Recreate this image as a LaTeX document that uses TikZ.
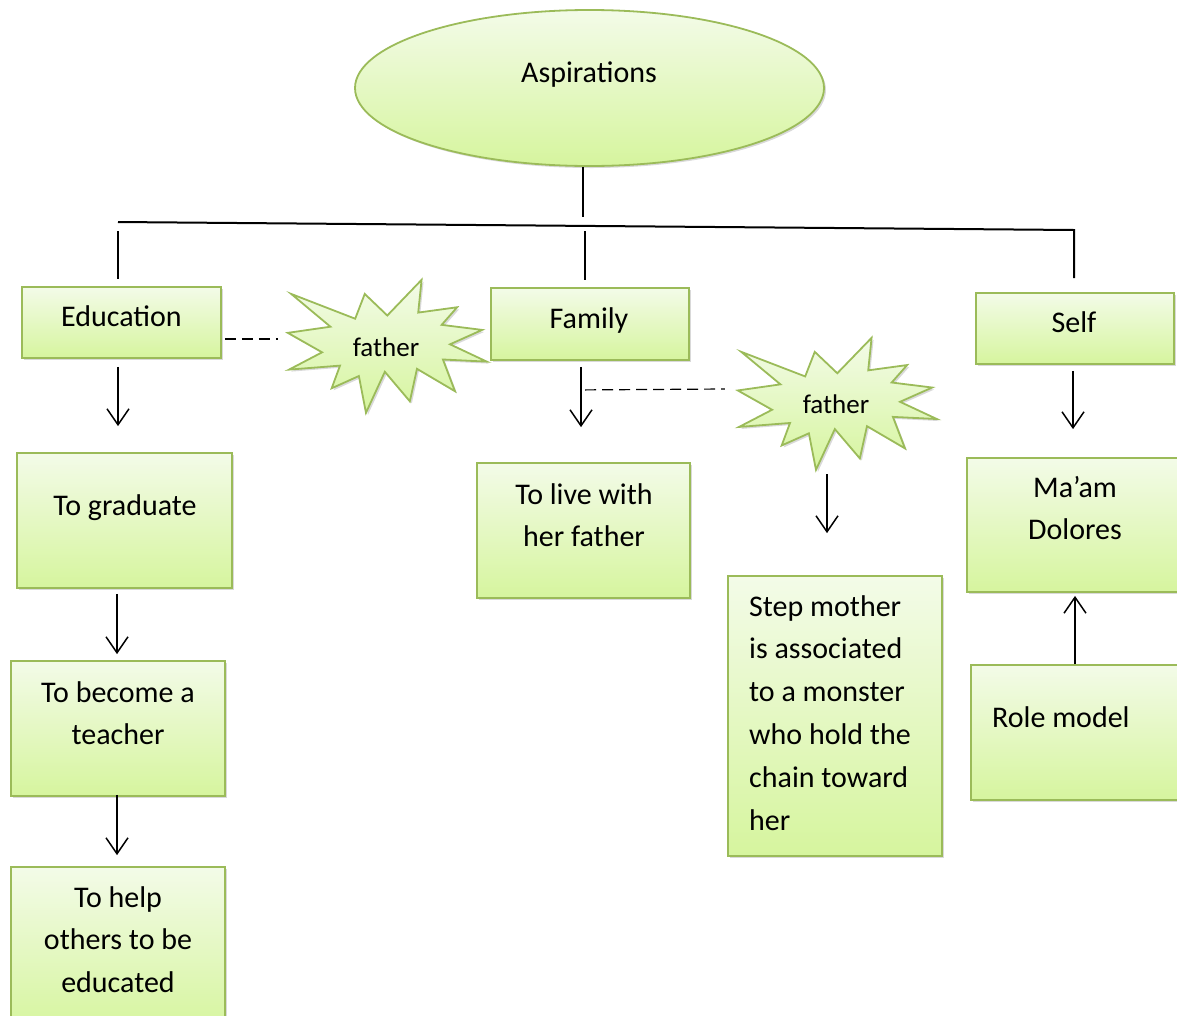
\documentclass[tikz,border=0pt]{standalone}
\usepackage{fontspec}
\setmainfont{Carlito}
\usetikzlibrary{arrows.meta,shapes.geometric,shadows,calc}
\definecolor{gtop}{RGB}{243,251,232}
\definecolor{gbot}{RGB}{214,245,158}
\definecolor{gbord}{RGB}{155,187,89}
\newcommand\burstpath{(108,58) -- (145.22,0) -- (141.55,53.25) -- (183.80,44.57) -- (167.02,73.15) -- (210.97,81.37) -- (176.07,104.75) -- (216,132.90) -- (168.37,129.42) -- (181.45,180.95) -- (140.20,144.57) -- (132.47,197.37) -- (105.32,149.35) -- (84.85,216) -- (77.15,156.27) -- (47.62,176.17) -- (56.67,139.37) -- (1.35,145.87) -- (37.22,117.75) -- (0,86.15) -- (46.27,76.17) -- (3.70,22.95) -- (73.12,63.20) -- (83.52,22.95) -- cycle}
\begin{document}
\begin{tikzpicture}[x=1pt,y=-1pt,
  gbox/.style={rectangle, draw=gbord, line width=1.8pt, top color=gtop, bottom color=gbot,
    drop shadow={opacity=0.3,shadow xshift=2pt,shadow yshift=-2pt}, inner sep=0pt},
  gell/.style={ellipse, draw=gbord, line width=1.8pt, top color=gtop, bottom color=gbot,
    drop shadow={opacity=0.3,shadow xshift=2pt,shadow yshift=-2pt}, inner sep=0pt},
  burst/.style={draw=gbord, line width=1.8pt, top color=gtop, bottom color=gbot,
    drop shadow={opacity=0.3,shadow xshift=2pt,shadow yshift=-2pt}},
  burstbox/.style={minimum width=199pt, minimum height=133pt, inner sep=0pt},
  txt/.style={font=\fontsize{30}{42.8}\selectfont, inner sep=0pt, align=center},
  ftxt/.style={font=\fontsize{27}{33}\selectfont, inner sep=0pt},
  tree/.style={line width=2pt},
  arr/.style={line width=1.5pt, -{Straight Barb[length=16pt,width=22pt]}},
  dashln/.style={line width=1.2pt, dash pattern=on 11pt off 6pt}
]
\useasboundingbox (0,0) rectangle (1177,1015);
\clip (0,0) rectangle (1177,1015);

% top ellipse
\node[gell, minimum width=469pt, minimum height=156pt] (asp) at (589.5,88) {};
\node[txt, anchor=base] (aspt) at (589,82) {Aspirations};

% level 1 boxes
\node[gbox, minimum width=199pt, minimum height=71pt] (edu) at (121.5,322.5) {};
\node[txt, anchor=base] (edut) at (121.5,326) {Education};
\node[gbox, minimum width=198pt, minimum height=72pt] (fam) at (590,324) {};
\node[txt, anchor=base] (famt) at (589,328) {Family};
\node[gbox, minimum width=198pt, minimum height=71pt] (self) at (1075,328.5) {};
\node[txt, anchor=base] (selft) at (1074,332) {Self};

% starbursts
\node[burstbox] (s1) at (387.5,346.5) {};
\begin{scope}[shift={(s1.north west)}, x=0.9213pt, y=-0.6157pt]
  \shade[burst] \burstpath;
\end{scope}
\node[ftxt, anchor=base] (s1t) at (386,356) {father};

\node[burstbox, minimum height=132pt] (s2) at (837.5,404) {};
\begin{scope}[shift={(s2.north west)}, x=0.9213pt, y=-0.6111pt]
  \shade[burst] \burstpath;
\end{scope}
\node[ftxt, anchor=base] (s2t) at (836,413) {father};

% lower boxes (multi-line texts: base anchor = last line's baseline)
\node[gbox, minimum width=215pt, minimum height=135pt] (grad) at (124.5,520.5) {};
\node[txt, anchor=base] (gradt) at (125,515) {To graduate};

\node[gbox, minimum width=213pt, minimum height=135pt] (live) at (583.5,530.5) {};
\node[txt, anchor=base] (livet) at (584,546.8) {To live with\\her father};

\node[gbox, minimum width=214pt, minimum height=280pt] (step) at (835,716) {};
\node[txt, anchor=base west, align=left] (stept) at (749,830) {Step mother\\is associated\\to a monster\\who hold the\\chain toward\\her};

\node[gbox, minimum width=216pt, minimum height=134pt] (maam) at (1075,525) {};
\node[txt, anchor=base] (maamt) at (1075,539.8) {Ma’am\\Dolores};

\node[gbox, minimum width=212pt, minimum height=135pt] (role) at (1077,732.5) {};
\node[txt, anchor=base west] (rolet) at (992,727) {Role model};

\node[gbox, minimum width=214pt, minimum height=135pt] (teach) at (118,728.5) {};
\node[txt, anchor=base] (teacht) at (118,744.8) {To become a\\teacher};

\node[gbox, minimum width=214pt, minimum height=163pt] (help) at (118,948.5) {};
\node[txt, anchor=base] (helpt) at (118,992.6) {To help\\others to be\\educated};

% tree connectors
\coordinate (busL) at (118,222);
\coordinate (busR) at (1074,230);
\draw[tree] ($(asp.south)+(-6.5,0)$) -- ($(asp.south)+(-6.5,50)$);
\draw[tree] (busL) -- (busR) -- ($(self.north)+(-1,-14)$);
\draw[tree] ($(edu.north)+(-3.5,-55)$) -- ($(edu.north)+(-3.5,-7)$);
\draw[tree] ($(fam.north)+(-5,-56)$) -- ($(fam.north)+(-5,-7)$);

% dashed links
\draw[dashln] ($(edu.east)+(3,16.5)$) -- ($(s1.west)+(-10,-7.5)$);
\draw[dashln] ($(fam.south)+(-5,29)$) -- ($(s2.west)+(-13,-15)$);

% arrows
\draw[arr] ($(edu.south)+(-3.5,8)$) -- ($(grad.north)+(-6.5,-26)$);
\draw[arr] ($(fam.south)+(-9,6)$) -- ($(live.north)+(-2.5,-35)$);
\draw[arr] ($(self.south)+(-2,6)$) -- ($(maam.north)+(-2,-28)$);
\draw[arr] ($(s2.south)+(-10.5,4)$) -- ($(step.north)+(-8,-42)$);
\draw[arr] ($(grad.south)+(-7.5,5)$) -- ($(teach.north)+(-1,-6)$);
\draw[arr] ($(teach.south)+(-1,-2)$) -- ($(help.north)+(-1,-11)$);
\draw[arr] ($(role.north)+(-2,0)$) -- ($(maam.south)+(0,3)$);
\end{tikzpicture}
\end{document}
